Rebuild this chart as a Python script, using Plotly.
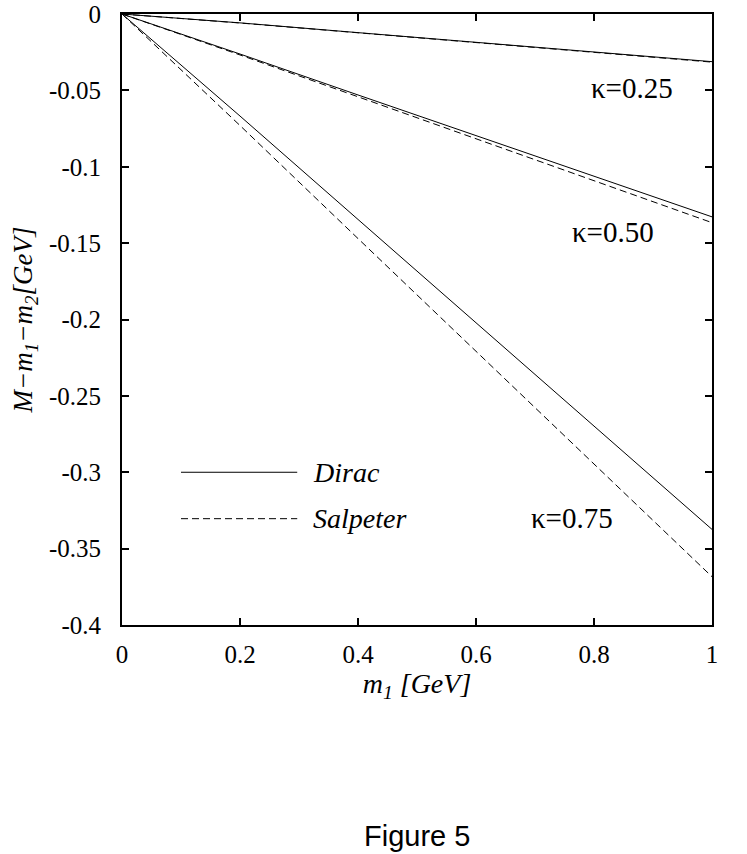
import plotly.graph_objects as go

m1 = [0.0, 0.2, 0.4, 0.6, 0.8, 1.0]
dirac_025 = [0.0, -0.0058, -0.0122, -0.0186, -0.0250, -0.0312]
salp_025 = [0.0, -0.0059, -0.0123, -0.0188, -0.0252, -0.0315]
dirac_050 = [0.0, -0.0262, -0.0530, -0.0796, -0.1062, -0.1328]
salp_050 = [0.0, -0.0268, -0.0542, -0.0816, -0.1090, -0.1366]
dirac_075 = [0.0, -0.0668, -0.1345, -0.2023, -0.2700, -0.3374]
salp_075 = [0.0, -0.0730, -0.1470, -0.2210, -0.2948, -0.3684]

x_ticks = [0, 0.2, 0.4, 0.6, 0.8, 1]
x_ticktext = ["0", "0.2", "0.4", "0.6", "0.8", "1"]
y_ticks = [0, -0.05, -0.1, -0.15, -0.2, -0.25, -0.3, -0.35, -0.4]
y_ticktext = ["0", "-0.05", "-0.1", "-0.15", "-0.2", "-0.25", "-0.3", "-0.35", "-0.4"]

kappa_labels = ["κ=0.25", "κ=0.50", "κ=0.75"]
kappa_x = [0.864, 0.833, 0.762]
kappa_y = [-0.0484, -0.1427, -0.330]

SERIF = "Liberation Serif"
fig = go.Figure()
solid = dict(color="black", width=1)
dashed = dict(color="black", width=1, dash="7px,4px")
for d, s in [(dirac_025, salp_025), (dirac_050, salp_050), (dirac_075, salp_075)]:
    fig.add_trace(go.Scatter(x=m1, y=s, mode="lines", line=dashed, showlegend=False))
    fig.add_trace(go.Scatter(x=m1, y=d, mode="lines", line=solid, showlegend=False))

for t, x, y in zip(kappa_labels, kappa_x, kappa_y):
    fig.add_annotation(x=x, y=y, text=t, showarrow=False,
                       font=dict(family=SERIF, size=29, color="black"))

# manual legend
leg = [("Dirac", 0.250, "solid"), ("Salpeter", 0.174, "7px,4px")]
for name, yy, dash in leg:
    fig.add_shape(type="line", xref="paper", yref="paper", x0=0.100, x1=0.297,
                  y0=yy, y1=yy, line=dict(color="black", width=1, dash=dash))
    fig.add_annotation(xref="paper", yref="paper", x=0.320, y=yy, xanchor="left",
                       yanchor="middle", text="<i>" + name + "</i>", showarrow=False,
                       font=dict(family=SERIF, size=28, color="black"))

fig.add_annotation(xref="paper", yref="paper", x=0.5, y=-0.345, xanchor="center",
                   yanchor="middle", text="Figure 5", showarrow=False,
                   font=dict(family="Liberation Sans", size=29, color="black"))

axis_common = dict(showline=True, linecolor="black", linewidth=2, mirror="ticks",
                   ticks="inside", ticklen=7, tickwidth=2, tickcolor="black",
                   showgrid=False, zeroline=False, automargin=False,
                   tickfont=dict(family=SERIF, size=25, color="black"))
fig.update_xaxes(range=[0, 1], tickvals=x_ticks, ticktext=x_ticktext,
                 ticklabelstandoff=6,
                 title=dict(text="<i>m<sub>1</sub> [GeV]</i>", standoff=2,
                            font=dict(family=SERIF, size=28, color="black")),
                 **axis_common)
fig.update_yaxes(range=[-0.4, 0], tickvals=y_ticks, ticktext=y_ticktext,
                 ticklabelstandoff=14,
                 title=dict(text="<i>M−m<sub>1</sub>−m<sub>2</sub>[GeV]</i>", standoff=8,
                            font=dict(family=SERIF, size=27, color="black")),
                 **axis_common)
fig.update_layout(width=747, height=854, margin=dict(l=122, r=35, t=14, b=229),
                  plot_bgcolor="white", paper_bgcolor="white", showlegend=False)
fig.write_html("out.html", config={"displayModeBar": False},
               post_script="document.body.style.margin='0';")
